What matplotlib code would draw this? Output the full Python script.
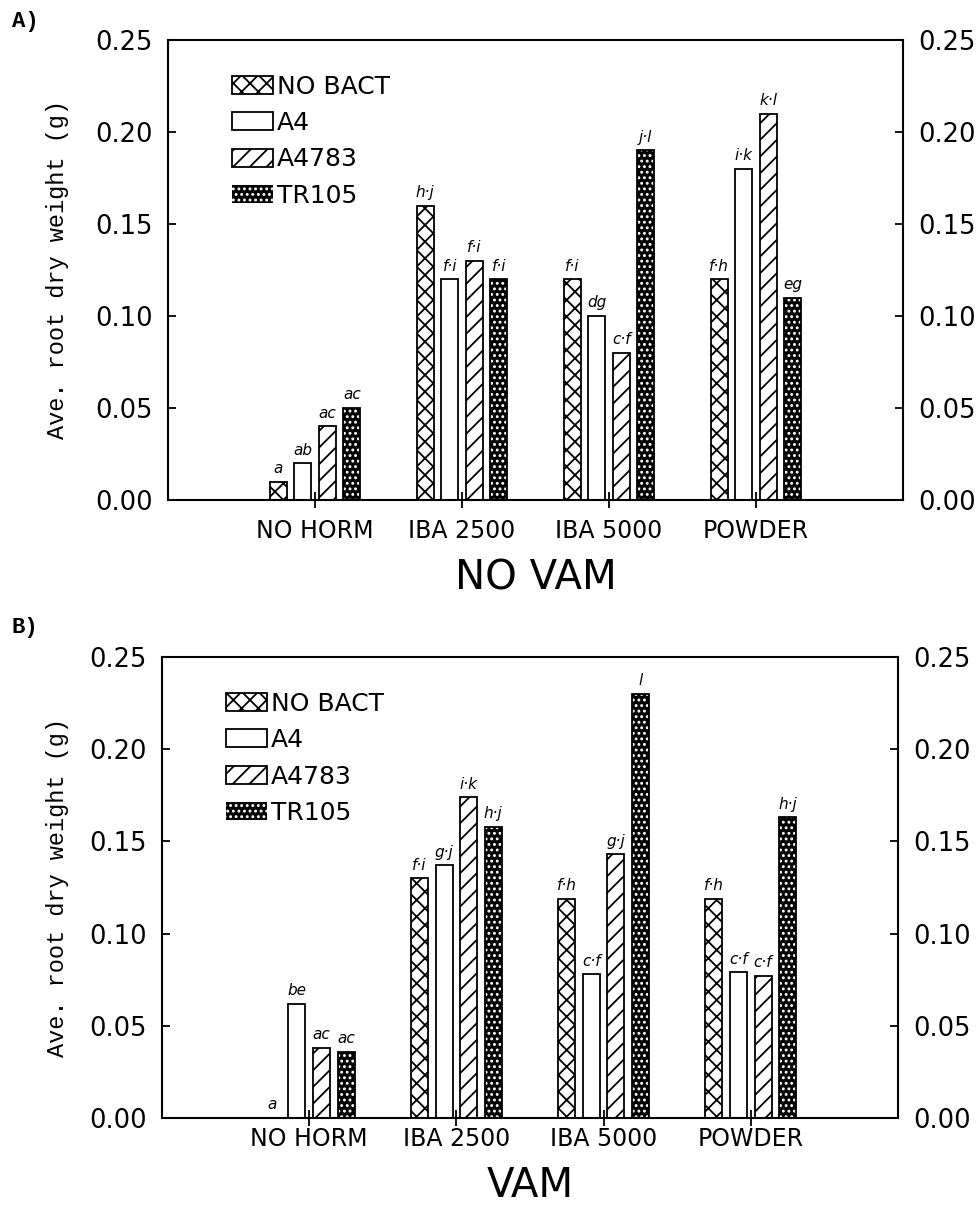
import numpy as np
import matplotlib
matplotlib.use("Agg")
import matplotlib.pyplot as plt

# data
hormones = ["NO HORM", "IBA 2500", "IBA 5000", "POWDER"]
bacteria = ["NO BACT", "A4", "A4783", "TR105"]

# panel A: NO VAM, one list per bacteria treatment (order of hormones)
novam_nobact = [0.010, 0.160, 0.120, 0.120]
novam_a4 = [0.020, 0.120, 0.100, 0.180]
novam_a4783 = [0.040, 0.130, 0.080, 0.210]
novam_tr105 = [0.050, 0.120, 0.190, 0.110]
novam_letters = [["a", "ab", "ac", "ac"],
                 ["h·j", "f·i", "f·i", "f·i"],
                 ["f·i", "dg", "c·f", "j·l"],
                 ["f·h", "i·k", "k·l", "eg"]]

# panel B: VAM
vam_nobact = [0.000, 0.130, 0.119, 0.119]
vam_a4 = [0.062, 0.137, 0.078, 0.079]
vam_a4783 = [0.038, 0.174, 0.143, 0.077]
vam_tr105 = [0.036, 0.158, 0.230, 0.163]
vam_letters = [["a", "be", "ac", "ac"],
               ["f·i", "g·j", "i·k", "h·j"],
               ["f·h", "c·f", "g·j", "l"],
               ["f·h", "c·f", "c·f", "h·j"]]

yticks = [0.00, 0.05, 0.10, 0.15, 0.20, 0.25]

W, H = 978, 1211
plt.rcParams["hatch.linewidth"] = 1.3
SANS = "DejaVu Sans"
MONO = "Liberation Mono"

fig = plt.figure(figsize=(W / 100, H / 100), dpi=100)


def draw_panel(rect, series, letters, title, title_y, xpad):
    ax = fig.add_axes(rect)
    x = np.arange(1, len(hormones) + 1)
    width = 0.116
    pitch = 0.167
    offs = (np.arange(4) - 1.5) * pitch
    lw = 1.3

    nb = ax.bar(x + offs[0], series[0], width, facecolor="white",
                edgecolor="black", hatch="xx", linewidth=lw)
    a4 = ax.bar(x + offs[1], series[1], width, facecolor="white",
                edgecolor="black", linewidth=lw)
    a47 = ax.bar(x + offs[2], series[2], width, facecolor="white",
                 edgecolor="black", hatch="//", linewidth=lw)
    tr = ax.bar(x + offs[3], series[3], width, facecolor="black",
                edgecolor="white", hatch="...", linewidth=0)
    ax.bar(x + offs[3], series[3], width, fill=False,
           edgecolor="black", linewidth=lw)

    for gi in range(len(hormones)):
        for bi in range(4):
            ax.annotate(letters[gi][bi], (x[gi] + offs[bi], series[bi][gi]),
                        xytext=(0, 4), textcoords="offset points",
                        ha="center", va="bottom", fontsize=11,
                        style="italic", family=SANS)

    ax.set_xlim(0, 5)
    ax.set_ylim(0, 0.25)
    ax.set_xticks(x)
    ax.set_xticklabels(hormones, fontsize=17, family=SANS)
    ax.set_yticks(yticks)
    ax.set_yticklabels([f"{v:.2f}" for v in yticks], fontsize=18.5, family=SANS)
    ax.tick_params(axis="y", direction="in", length=6, width=1.3,
                   left=True, right=True, labelleft=True, labelright=True, pad=11)
    ax.tick_params(axis="x", direction="inout", length=11, width=1.3, pad=xpad)
    for s in ax.spines.values():
        s.set_linewidth(1.5)

    ax.legend([nb, a4, a47, tr], bacteria, loc="upper left",
              bbox_to_anchor=(0.087, 0.925), frameon=False,
              prop={"family": SANS, "size": 18}, handlelength=1.65,
              handleheight=0.72, handletextpad=0.15, labelspacing=0.5,
              borderaxespad=0, borderpad=0)

    fig.text(0.5 * (rect[0] * 2 + rect[2]), title_y, title, ha="center",
             va="center", fontsize=29, family=SANS)
    fig.text(58 / W, rect[1] + rect[3] / 2, "Ave. root dry weight (g)",
             rotation=90, ha="center", va="center", fontsize=17, family=MONO)
    return ax


rect_a = [168 / W, 1 - 500 / H, 735 / W, 460 / H]
rect_b = [162 / W, 1 - 1118 / H, 736 / W, 461 / H]

draw_panel(rect_a, [novam_nobact, novam_a4, novam_a4783, novam_tr105],
           novam_letters, "NO VAM", 1 - 578 / H, 8)
draw_panel(rect_b, [vam_nobact, vam_a4, vam_a4783, vam_tr105],
           vam_letters, "VAM", 1 - 1186 / H, 1)

fig.text(12 / W, 1 - 22 / H, "A)", fontsize=16, family=MONO,
         weight="bold", ha="left", va="center")
fig.text(12 / W, 1 - 628 / H, "B)", fontsize=16, family=MONO,
         weight="bold", ha="left", va="center")

fig.savefig("out.png", dpi=100)
